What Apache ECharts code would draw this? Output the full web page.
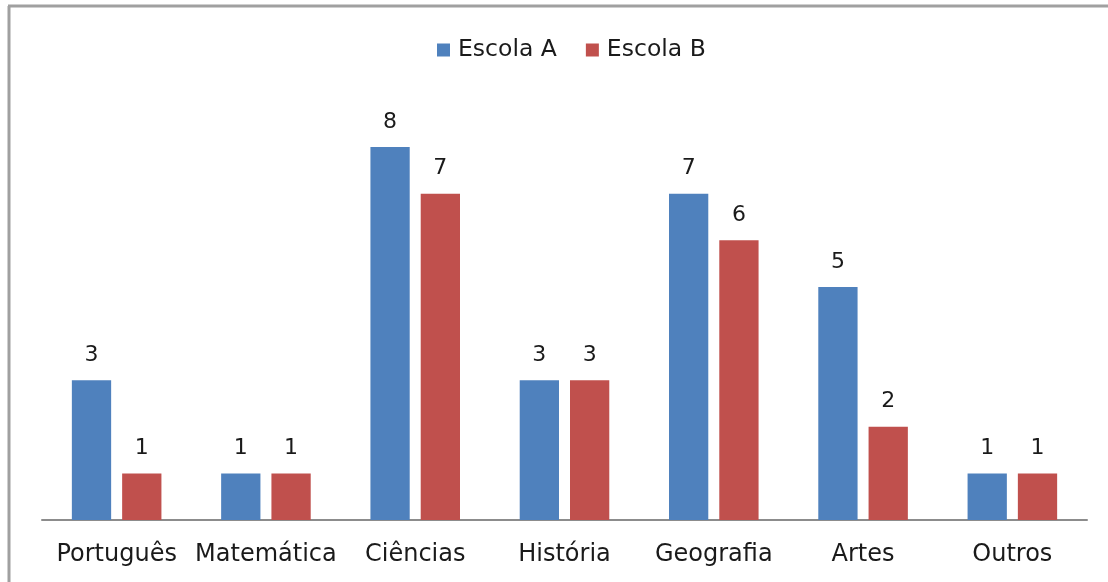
<!DOCTYPE html>
<html><head><meta charset="utf-8">
<script src="https://cdn.jsdelivr.net/npm/echarts@6/dist/echarts.min.js"></script>
<style>html,body{margin:0;padding:0;background:#fff}#c{width:1108px;height:582px}</style>
</head><body><div id="c"></div>
<script>
const categories = ['Português','Matemática','Ciências','História','Geografia','Artes','Outros'];
const escolaA = [3,1,8,3,7,5,1];
const escolaB = [1,1,7,3,6,2,1];
const seriesNames = ['Escola A','Escola B'];

const chart = echarts.init(document.getElementById('c'));
const font = 'DejaVu Sans';
const lbl = {show:true, position:'top', distance:14, color:'#1a1a1a', fontSize:22, fontFamily:font};
chart.setOption({
  animation:false,
  backgroundColor:'#fff',
  graphic:[
    {type:'line', shape:{x1:9,y1:6,x2:9,y2:582}, style:{stroke:'#a0a0a0', lineWidth:3}},
    {type:'line', shape:{x1:8,y1:6,x2:1108,y2:6}, style:{stroke:'#a0a0a0', lineWidth:3}}
  ],
  legend:{
    top:33, left:432, itemWidth:13, itemHeight:13, itemGap:29,
    icon:'rect',
    textStyle:{fontSize:23.5, fontFamily:font, color:'#1a1a1a', padding:[0,0,0,3]},
    data:seriesNames
  },
  grid:{left:42, right:21, top:147, bottom:62},
  xAxis:{
    type:'category', data:categories,
    axisLine:{lineStyle:{color:'#8c8c8c', width:2}},
    axisTick:{show:false},
    axisLabel:{fontSize:24, fontFamily:font, color:'#1a1a1a', margin:23, interval:0}
  },
  yAxis:{type:'value', min:0, max:8, show:false, splitLine:{show:false}},
  series:[
    {name:seriesNames[0], type:'bar', data:escolaA, itemStyle:{color:'#4F81BD'}, barGap:'28%', barCategoryGap:'40%', label:lbl},
    {name:seriesNames[1], type:'bar', data:escolaB, itemStyle:{color:'#C0504D'}, barGap:'28%', barCategoryGap:'40%', label:lbl}
  ]
});
</script></body></html>
